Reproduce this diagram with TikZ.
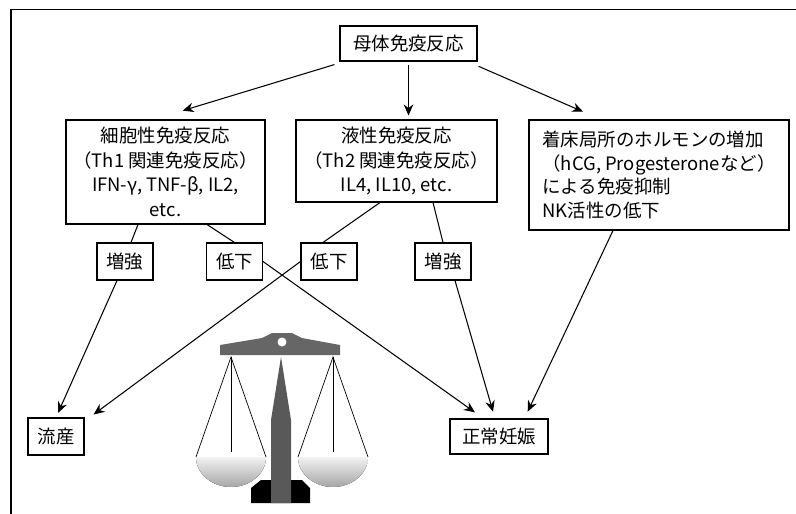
\documentclass[tikz,border=0pt]{standalone}
\usepackage{fontspec}
\setmainfont{Noto Sans CJK JP}
\usetikzlibrary{arrows.meta}

\begin{document}
\begin{tikzpicture}[x=0.02cm,y=-0.02cm,
    >={Stealth[length=2.2mm,width=1.9mm]},
    box/.style={draw=black,line width=0.6pt,align=center,inner sep=0pt,
        font=\fontsize{10.5}{14}\selectfont},
    tag/.style={box,minimum width=1.12cm,minimum height=0.74cm},
    flow/.style={line width=0.6pt,->},
    link/.style={line width=0.6pt},
    cord/.style={line width=0.4pt}]
\useasboundingbox (0,0) rectangle (796,514);
\draw[line width=0.8pt] (11,514) -- (11,9.5) -- (796,9.5);

% boxes
\node[box,minimum width=2.74cm,minimum height=0.70cm] (mother) at (408.5,43.5) {母体免疫反応};
\node[box,minimum width=3.98cm,minimum height=2.08cm] (cell) at (165.5,172)
    {細胞性免疫反応\\（Th1 関連免疫反応）\\IFN-γ, TNF-β, IL2,\\etc.};
\node[box,minimum width=4.02cm,minimum height=1.64cm] (humor) at (396.5,161)
    {液性免疫反応\\（Th2 関連免疫反応）\\IL4, IL10, etc.};
\node[box,align=left,minimum width=5.2cm,minimum height=2.2cm,
    font=\fontsize{10.5}{13.6}\selectfont] (hormone) at (659,175)
    {着床局所のホルモンの増加\\（hCG, Progesteroneなど）\\による免疫抑制\\NK活性の低下};

\node[tag] (upL) at (125,261.5) {増強};
\node[tag] (downL) at (234.5,261.5) {低下};
\node[tag] (downR) at (329,261.5) {低下};
\node[tag] (upR) at (443,261.5) {増強};
\node[tag] (abort) at (56,436.5) {流産};
\node[tag,minimum width=1.96cm,minimum height=0.70cm] (normal) at (499,436.5) {正常妊娠};

% connectors
\draw[flow,shorten <=0.21cm,shorten >=0.61cm] ([xshift=0.1cm]mother.south west) -- ([xshift=-0.24cm]cell.north);
\draw[flow,shorten <=0.06cm,shorten >=0.08cm] (mother) -- (mother |- humor.north);
\draw[flow,shorten <=0.24cm,shorten >=0.39cm] ([xshift=-0.2cm]mother.south east) -- ([xshift=-1.16cm]hormone.north);

\draw[link] ([xshift=-0.55cm]cell.south) -- ([xshift=0.12cm]upL.north);
\draw[link] ([xshift=0.83cm]cell.south) -- (downL.north);
\draw[link] ([xshift=-0.33cm]humor.south) -- ([xshift=-0.12cm]downR.north);
\draw[link] ([xshift=0.73cm]humor.south) -- (upR.north);

\draw[flow,shorten >=0.1cm] ([xshift=-0.16cm]upL.south) -- (abort.north);
\draw[flow,shorten >=0.1cm] (downR.west) -- ([xshift=0.1cm]abort.north east);
\draw[flow,shorten >=0.21cm] (downL.east) -- ([xshift=-0.31cm]normal.north);
\draw[flow,shorten >=0.14cm] ([xshift=0.24cm]upR.south) -- ([xshift=-0.08cm]normal.north);
\draw[flow,shorten >=0.15cm] ([xshift=-0.92cm]hormone.south) -- ([xshift=0.51cm]normal.north);

% balance
\foreach \hx in {231,333}{
    \fill[top color=black!5,bottom color=black!35]
        (\hx-35,457) arc[start angle=180,end angle=360,x radius=0.7cm,y radius=0.6cm] -- cycle;
    \draw[cord] (\hx-35,457) -- (\hx,357) -- (\hx+35,457);
    \draw[cord] (\hx,357) -- (\hx,452);
}
\fill[black] (261,480) -- (302,480) -- (310,488) -- (310,503) -- (251,503) -- (251,488) -- cycle;
\fill[black!65] (281,357) -- (291,420) -- (291,503) -- (271,503) -- (271,420) -- cycle;
\fill[black!60] (220,345) -- (262,338) -- (272,333) -- (292,333) -- (302,338) -- (340,345)
    -- (340,355) -- (220,355) -- cycle;
\fill[white] (282,342) circle[radius=0.09cm];
\end{tikzpicture}
\end{document}
